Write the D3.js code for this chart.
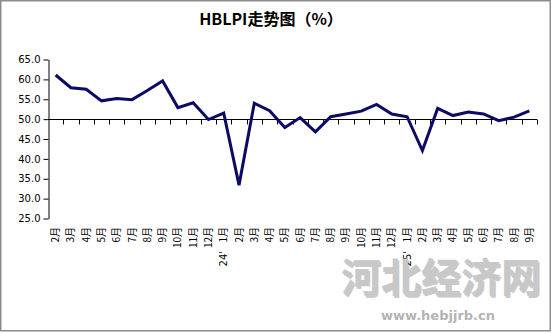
<!DOCTYPE html>
<html>
<head>
<meta charset="utf-8">
<script src="https://cdn.jsdelivr.net/npm/d3@7"></script>
<style>
  body { margin: 0; background: #fff; }
  svg { display: block; }
  .tick text { font-family: "DejaVu Sans", sans-serif; }
</style>
</head>
<body>
<svg id="chart" width="552" height="333"></svg>
<script>
const months = ['2月', '3月', '4月', '5月', '6月', '7月', '8月', '9月', '10月', '11月', '12月',
  '1月', '2月', '3月', '4月', '5月', '6月', '7月', '8月', '9月', '10月', '11月', '12月',
  '1月', '2月', '3月', '4月', '5月', '6月', '7月', '8月', '9月'];
const years = ['23', '23', '23', '23', '23', '23', '23', '23', '23', '23', '23',
  '24', '24', '24', '24', '24', '24', '24', '24', '24', '24', '24', '24',
  '25', '25', '25', '25', '25', '25', '25', '25', '25'];
const hblpi = [61.1, 57.9, 57.5, 54.6, 55.2, 54.9, 57.2, 59.6, 52.9, 54.1, 49.9,
  51.5, 33.4, 54.0, 52.1, 47.9, 50.4, 46.8, 50.6, 51.3, 52.0, 53.7, 51.3,
  50.6, 42.1, 52.7, 50.9, 51.8, 51.3, 49.6, 50.5, 52.1];
const yTicks = [25, 30, 35, 40, 45, 50, 55, 60, 65];
const baseline = 50;

const keys = months.map((m, i) => years[i] + '-' + i);

const svg = d3.select('#chart');

// outer frame
svg.append('rect')
  .attr('x', 0.75).attr('y', 0.75)
  .attr('width', 549.5).attr('height', 330)
  .attr('fill', 'none')
  .attr('stroke', '#8c8c8c')
  .attr('stroke-width', 1.5);

const xscale = d3.scaleBand()
  .domain(keys)
  .range([48, 537]);

const yscale = d3.scaleLinear()
  .domain([25, 65])
  .range([218.5, 59.5]);

// title
svg.append('text')
  .text('HBLPI走势图（%）')
  .attr('x', 271)
  .attr('y', 25)
  .attr('text-anchor', 'middle')
  .style('font-family', '"Noto Sans CJK SC", sans-serif')
  .style('font-weight', 'bold')
  .style('font-size', '16px');

// y axis
const leftAxis = d3.axisLeft(yscale)
  .tickValues(yTicks)
  .tickSize(5)
  .tickSizeOuter(0)
  .tickFormat(d3.format('.1f'));
const gy = svg.append('g')
  .attr('transform', 'translate(48.5, 0)')
  .call(leftAxis);
gy.selectAll('line, path').attr('stroke', '#000');
gy.selectAll('text')
  .attr('x', -8)
  .style('font-size', '10px')
  .attr('fill', '#000');

// x axis line at 50 with ticks at band boundaries
const y50 = Math.round(yscale(baseline)) + 0.5;
const gx = svg.append('g');
gx.append('line')
  .attr('x1', xscale.range()[0]).attr('x2', xscale.range()[1])
  .attr('y1', y50).attr('y2', y50)
  .attr('stroke', '#000');
gx.selectAll('line.tk')
  .data(keys.map((k) => xscale(k)).concat([xscale.range()[1]]).slice(1))
  .enter()
  .append('line')
  .attr('class', 'tk')
  .attr('x1', (d) => Math.round(d) + 0.5)
  .attr('x2', (d) => Math.round(d) + 0.5)
  .attr('y1', y50)
  .attr('y2', y50 + 5)
  .attr('stroke', '#000');

// month labels below the plot
const bottomAxis = d3.axisBottom(xscale)
  .tickSize(0)
  .tickFormat((d, i) => months[i]);
const gb = svg.append('g')
  .attr('transform', 'translate(0, 227)')
  .call(bottomAxis);
gb.select('.domain').remove();
gb.selectAll('text')
  .attr('transform', 'rotate(-90)')
  .attr('x', 0)
  .attr('y', 0)
  .attr('dy', '0.35em')
  .attr('text-anchor', 'end')
  .style('font-family', '"Noto Sans CJK SC", sans-serif')
  .style('font-size', '10px')
  .attr('fill', '#000');

// year markers under each January
const yearStarts = keys.filter((k, i) => months[i] === '1月');
svg.append('g')
  .selectAll('text')
  .data(yearStarts)
  .enter()
  .append('text')
  .text((d) => d.split('-')[0] + "'")
  .attr('transform', (d) => `translate(${xscale(d) + xscale.bandwidth() / 2}, 251) rotate(-90)`)
  .attr('dy', '0.35em')
  .attr('text-anchor', 'end')
  .style('font-family', '"DejaVu Sans", sans-serif')
  .style('font-size', '10px');

// line
const line = d3.line()
  .x((d, i) => xscale(keys[i]) + xscale.bandwidth() / 2)
  .y((d) => yscale(d));
svg.append('path')
  .datum(hblpi)
  .attr('d', line)
  .attr('fill', 'none')
  .attr('stroke', '#0b0b66')
  .attr('stroke-width', 3)
  .attr('stroke-linejoin', 'miter');

// watermark
const wm = svg.append('g')
  .style('font-family', '"Noto Sans CJK SC", serif');
wm.append('text')
  .text('河北经济网')
  .attr('x', 441).attr('y', 292)
  .attr('text-anchor', 'middle')
  .style('font-size', '40px')
  .style('font-weight', 'bold')
  .attr('fill', '#666')
  .attr('opacity', 0.35)
  .attr('transform', 'translate(1.5,1.5)');
wm.append('text')
  .text('河北经济网')
  .attr('x', 441).attr('y', 292)
  .attr('text-anchor', 'middle')
  .style('font-size', '40px')
  .style('font-weight', 'bold')
  .attr('fill', '#c8c8c8');
wm.append('text')
  .text('www.hebjjrb.cn')
  .attr('x', 438).attr('y', 320)
  .attr('text-anchor', 'middle')
  .style('font-family', '"DejaVu Sans", sans-serif')
  .style('font-size', '13px')
  .style('font-weight', 'bold')
  .attr('fill', '#b4b4b4');
</script>
</body>
</html>
